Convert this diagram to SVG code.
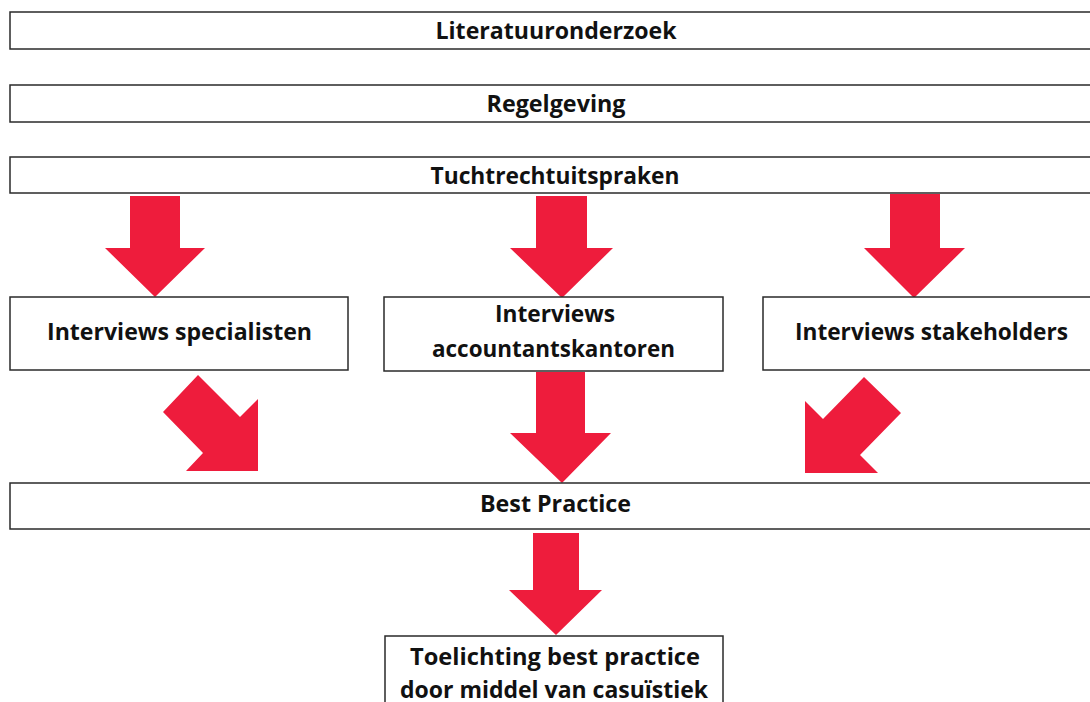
<svg xmlns="http://www.w3.org/2000/svg" width="1090" height="702" viewBox="0 0 1090 702">
<style>
.box{fill:#fff;stroke:#2a2a2a;stroke-width:1.5}
.arr{fill:#EE1C3C}
.t{font-family:"Open Sans","DejaVu Sans",sans-serif;font-weight:bold;font-size:23px;fill:#111;text-anchor:middle}
</style>
<rect width="1090" height="702" fill="#fff"/>
<g id="connectors">
<polygon class="arr" points="130,196 180,196 180,248 205,248 155,297 105,248 130,248"/>
<polygon class="arr" points="536,196 587,196 587,248 613,248 562,298 510,248 536,248"/>
<polygon class="arr" points="890,194 940,194 940,248 965,248 914,298 864,248 890,248"/>
<polygon class="arr" points="198,375 240,417 258,399 258,471 186,471 203,453 163,412"/>
<polygon class="arr" points="536,372 585,372 585,433 611,433 562,483 510,433 536,433"/>
<polygon class="arr" points="864,377 901,413 860,455 878,473 805,473 805,401 823,419"/>
<polygon class="arr" points="533,533 579,533 579,590 602,590 556,635 509,590 533,590"/>
</g>
<g id="n1"><rect class="box" x="10" y="12" width="1090" height="37"/><text class="t" x="556" y="39" textLength="241" lengthAdjust="spacingAndGlyphs">Literatuuronderzoek</text></g>
<g id="n2"><rect class="box" x="10" y="85" width="1090" height="37"/><text class="t" x="556" y="112" textLength="139" lengthAdjust="spacingAndGlyphs">Regelgeving</text></g>
<g id="n3"><rect class="box" x="10" y="157" width="1090" height="36"/><text class="t" x="555" y="184" textLength="249" lengthAdjust="spacingAndGlyphs">Tuchtrechtuitspraken</text></g>
<g id="n4"><rect class="box" x="10" y="297" width="338" height="73"/><text class="t" x="179.5" y="340" textLength="265" lengthAdjust="spacingAndGlyphs">Interviews specialisten</text></g>
<g id="n5"><rect class="box" x="384" y="297" width="339" height="74"/><text class="t" x="555" y="322" textLength="120" lengthAdjust="spacingAndGlyphs">Interviews</text><text class="t" x="553.5" y="357" textLength="243" lengthAdjust="spacingAndGlyphs">accountantskantoren</text></g>
<g id="n6"><rect class="box" x="763" y="297" width="340" height="73"/><text class="t" x="931.5" y="340" textLength="273" lengthAdjust="spacingAndGlyphs">Interviews stakeholders</text></g>
<g id="n7"><rect class="box" x="10" y="483" width="1090" height="46"/><text class="t" x="555.5" y="512" textLength="151" lengthAdjust="spacingAndGlyphs">Best Practice</text></g>
<g id="n8"><rect class="box" x="385" y="636" width="338" height="80"/><text class="t" x="555" y="665" textLength="290" lengthAdjust="spacingAndGlyphs">Toelichting best practice</text><text class="t" x="554" y="698" textLength="308" lengthAdjust="spacingAndGlyphs">door middel van casuïstiek</text></g>
</svg>
